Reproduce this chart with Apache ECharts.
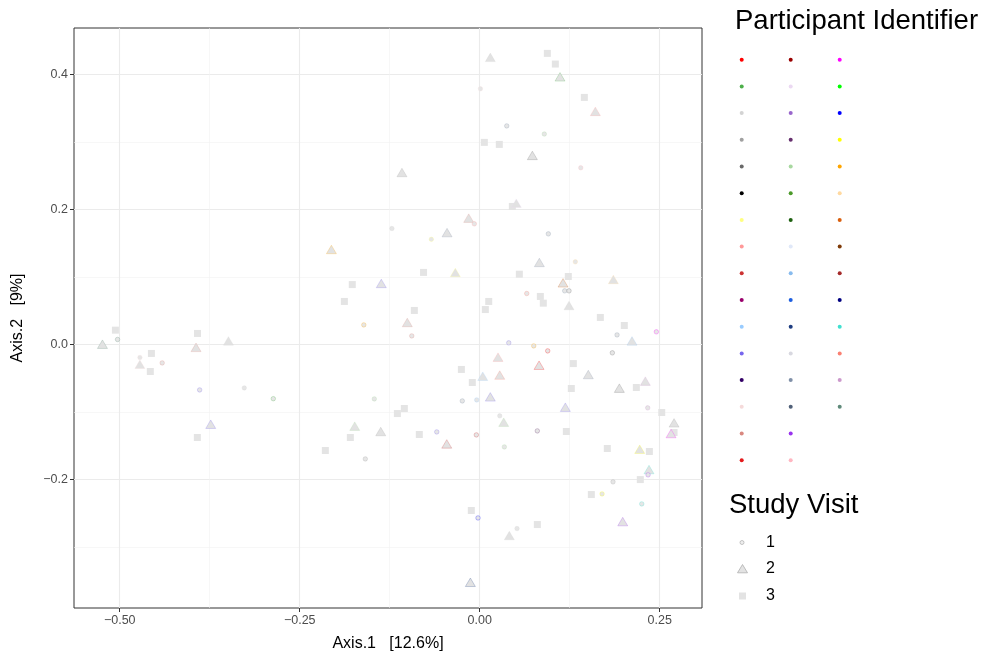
<!DOCTYPE html>
<html>
<head>
<meta charset="utf-8">
<script src="https://cdn.jsdelivr.net/npm/echarts@6/dist/echarts.min.js"></script>
<style>
  html, body { margin: 0; padding: 0; background: #ffffff; }
  #chart { width: 987px; height: 658px; }
</style>
</head>
<body>
<div id="chart"></div>
<script>
// Participant palette, column by column as listed in the key
const participantColors = [
  '#FF0000', '#4DAF4A', '#D3D3D3', '#A0A0A0', '#696969', '#000000', '#FFFF80', '#FF9999',
  '#CC3333', '#99006B', '#99CCFF', '#7766EE', '#330066', '#F5DADA', '#D98880', '#E41A1C',
  '#990000', '#EBD9F2', '#9966CC', '#66306E', '#A8D8A0', '#4C9A2A', '#1E6010', '#E0E8F8',
  '#88BBEE', '#1E5FE0', '#1E3D80', '#D8D8E0', '#8090A8', '#506078', '#9933EE', '#FFB6C1',
  '#FF00FF', '#00FF00', '#0000FF', '#FFFF00', '#FFA500', '#FFD9A0', '#D95F0E', '#7F3B08',
  '#A52A2A', '#000080', '#40E0D0', '#FA8072', '#CC99CC', '#5F8A7A'
];

// Study visit 1 (circles)
const visit1X = [0.001, -0.122, -0.0075, 0.0375, 0.0897, 0.1403, -0.503, -0.472, -0.441, -0.389,
  -0.327, -0.2867, -0.0672, -0.161, -0.0944, -0.0242, -0.0042, -0.1464, 0.0953, 0.1328,
  0.0653, 0.118, 0.124, 0.2453, 0.1907, 0.0403, 0.075, 0.0944, 0.1842, 0.2333,
  0.0278, 0.08, 0.0342, 0.2338, 0.1851, 0.1699, 0.225, 0.0518, -0.1589, -0.0597,
  -0.0047, -0.0024];
const visit1Y = [0.379, 0.172, 0.179, 0.324, 0.312, 0.262, 0.0077, -0.019, -0.027, -0.067,
  -0.064, -0.080, 0.156, 0.0293, 0.013, -0.0833, -0.0818, -0.0803, 0.1641, 0.1227,
  0.0758, 0.0797, 0.0797, 0.019, 0.0145, 0.0027, -0.0018, -0.0092, -0.0121, -0.0936,
  -0.1054, -0.1277, -0.1514, -0.1928, -0.2032, -0.221, -0.2358, -0.2723, -0.1692, -0.1292,
  -0.1336, -0.2566];
const visit1Participant = [13, 2, 7, 28, 20, 31, 45, 13, 14, 11,
  2, 1, 6, 36, 14, 28, 10, 20, 28, 37,
  43, 28, 4, 32, 28, 11, 36, 0, 4, 44,
  2, 19, 20, 30, 3, 35, 42, 2, 3, 11,
  8, 34];

// Study visit 2 (triangles)
const visit2X = [0.0147, -0.108, -0.0153, 0.1115, 0.1606, 0.0731, 0.0508, -0.524, -0.394, -0.349,
  -0.472, -0.0454, -0.206, -0.0339, -0.1367, -0.1006, 0.0042, 0.0147, 0.0828, 0.1157,
  0.1856, 0.124, 0.2115, 0.0254, 0.0824, 0.0278, 0.1508, 0.23, 0.1939, 0.1189,
  0.0333, 0.2699, 0.2657, 0.2222, 0.2351, 0.1986, 0.0411, -0.1736, -0.1375, -0.0458,
  -0.013, -0.3736];
const visit2Y = [0.4255, 0.255, 0.1874, 0.3967, 0.3455, 0.2803, 0.2096, 0.0007, -0.004, 0.0056,
  -0.029, 0.166, 0.141, 0.107, 0.0907, 0.0329, -0.0467, -0.0773, 0.1218, 0.0916,
  0.0966, 0.058, 0.0056, -0.0185, -0.0304, -0.045, -0.0442, -0.054, -0.0644, -0.0926,
  -0.1148, -0.1158, -0.1316, -0.1548, -0.1849, -0.262, -0.2827, -0.1207, -0.1286, -0.147,
  -0.3519, -0.1178];
const visit2Participant = [2, 3, 14, 1, 7, 4, 17, 45, 14, 2,
  13, 28, 36, 6, 11, 14, 10, 11, 28, 38,
  37, 2, 24, 7, 0, 43, 28, 44, 4, 11,
  20, 3, 32, 35, 42, 30, 2, 20, 3, 8,
  26, 11];

// Study visit 3 (squares)
const visit3X = [0.0064, 0.0939, 0.105, 0.1453, 0.0272, 0.0453, -0.506, -0.392, -0.456, -0.4575,
  -0.078, -0.177, -0.188, 0.0125, 0.0078, -0.0908, -0.0255, -0.0103, -0.1047, -0.1144,
  0.055, 0.123, 0.0842, 0.0883, 0.1675, 0.2008, 0.13, 0.2175, 0.1272, 0.2528,
  0.1203, 0.2699, 0.1772, 0.2356, 0.223, 0.155, 0.08, -0.1797, -0.2144, -0.0839,
  -0.0117, -0.3922];
const visit3Y = [0.2996, 0.4314, 0.4156, 0.3662, 0.2966, 0.2047, 0.0215, 0.0166, -0.013, -0.0397,
  0.107, 0.089, 0.064, 0.064, 0.052, 0.0507, -0.0367, -0.056, -0.0945, -0.102,
  0.1044, 0.101, 0.0714, 0.0615, 0.0403, 0.0284, -0.028, -0.0634, -0.0649, -0.1005,
  -0.1286, -0.1301, -0.1538, -0.1582, -0.1998, -0.222, -0.2664, -0.1375, -0.1567, -0.133,
  -0.2456, -0.1375];

// Axis ticks and labels
const xMajorTicks = [-0.5, -0.25, 0, 0.25];
const xMajorLabels = ['\u22120.50', '\u22120.25', '0.00', '0.25'];
const xMinorTicks = [-0.375, -0.125, 0.125];
const yMajorTicks = [-0.2, 0, 0.2, 0.4];
const yMajorLabels = ['\u22120.2', '0.0', '0.2', '0.4'];
const yMinorTicks = [-0.3, -0.1, 0.1, 0.3];
const visitNames = ['1', '2', '3'];

const X_MIN = -0.5635, X_MAX = 0.3087;
const Y_MIN = -0.390, Y_MAX = 0.469;

const FONT = '"Liberation Sans", Arial, Helvetica, sans-serif';

function withAlpha(hex, a) {
  const n = parseInt(hex.slice(1), 16);
  return 'rgba(' + ((n >> 16) & 255) + ',' + ((n >> 8) & 255) + ',' + (n & 255) + ',' + a + ')';
}

function labelFor(ticks, labels) {
  return function (v) {
    for (let i = 0; i < ticks.length; i++) {
      if (Math.abs(ticks[i] - v) < 1e-9) return labels[i];
    }
    return '';
  };
}

function coloredPoints(xs, ys, pids, alpha) {
  return xs.map(function (x, i) {
    return {
      value: [x, ys[i]],
      itemStyle: { borderColor: withAlpha(participantColors[pids[i]], alpha) }
    };
  });
}

const chart = echarts.init(document.getElementById('chart'), null, { renderer: 'canvas' });

// Key graphics: participant colour dots and study-visit shapes
const keyGraphics = [];
keyGraphics.push({
  type: 'text', x: 735, y: 21.7,
  style: { text: 'Participant Identifier', font: '27.5px ' + FONT, fill: '#000000', verticalAlign: 'middle' }
});
const keyColX = [741.7, 790.7, 839.7];
const keyRowsPerCol = 16;
participantColors.forEach(function (c, i) {
  const col = Math.floor(i / keyRowsPerCol);
  const row = i % keyRowsPerCol;
  keyGraphics.push({
    type: 'circle',
    shape: { cx: keyColX[col], cy: 59.7 + row * 26.7, r: 2 },
    style: { fill: c }
  });
});
keyGraphics.push({
  type: 'text', x: 729, y: 505.5,
  style: { text: 'Study Visit', font: '27.5px ' + FONT, fill: '#000000', verticalAlign: 'middle' }
});
const visitRowY = [542.5, 569, 596];
keyGraphics.push({
  type: 'circle', shape: { cx: 742, cy: visitRowY[0], r: 2 },
  style: { fill: '#eeeeee', stroke: '#b5b5b5', lineWidth: 0.8 }
});
keyGraphics.push({
  type: 'polygon', shape: { points: [[742.5, visitRowY[1] - 4.5], [747.5, visitRowY[1] + 3.8], [737.5, visitRowY[1] + 3.8]] },
  style: { fill: '#e3e3e3', stroke: '#b0b0b0', lineWidth: 0.8 }
});
keyGraphics.push({
  type: 'rect', shape: { x: 739, y: visitRowY[2] - 3.5, width: 7, height: 7 },
  style: { fill: '#e3e3e3' }
});
visitNames.forEach(function (name, i) {
  keyGraphics.push({
    type: 'text', x: 766, y: visitRowY[i],
    style: { text: name, font: '16px ' + FONT, fill: '#000000', verticalAlign: 'middle' }
  });
});

const tickLabelStyle = { color: '#4d4d4d', fontSize: 12.5, fontFamily: FONT };
const gridLine = { color: '#ebebeb', width: 1.1 };
const minorGridLine = { color: '#f1f1f1', width: 0.6 };

const option = {
  backgroundColor: '#ffffff',
  animation: false,
  grid: {
    left: 74, top: 28, width: 628, height: 580,
    show: true, borderColor: '#333333', borderWidth: 1, backgroundColor: 'transparent'
  },
  xAxis: [
    {
      type: 'value', min: X_MIN, max: X_MAX, position: 'bottom',
      axisLine: { show: false, onZero: false },
      axisTick: { show: true, customValues: xMajorTicks, length: 4, lineStyle: { color: '#333333', width: 1 } },
      axisLabel: { customValues: xMajorTicks, formatter: labelFor(xMajorTicks, xMajorLabels), margin: 6, ...tickLabelStyle },
      splitLine: { show: true, lineStyle: gridLine },
      name: 'Axis.1   [12.6%]', nameLocation: 'middle', nameGap: 28,
      nameTextStyle: { color: '#000000', fontSize: 16, fontFamily: FONT }
    },
    {
      type: 'value', min: X_MIN, max: X_MAX, position: 'bottom',
      axisLine: { show: false, onZero: false },
      axisTick: { show: false, customValues: xMinorTicks },
      axisLabel: { show: false, customValues: xMinorTicks },
      splitLine: { show: true, lineStyle: minorGridLine }
    }
  ],
  yAxis: [
    {
      type: 'value', min: Y_MIN, max: Y_MAX, position: 'left',
      axisLine: { show: false, onZero: false },
      axisTick: { show: true, customValues: yMajorTicks, length: 4, lineStyle: { color: '#333333', width: 1 } },
      axisLabel: { customValues: yMajorTicks, formatter: labelFor(yMajorTicks, yMajorLabels), margin: 6, ...tickLabelStyle },
      splitLine: { show: true, lineStyle: gridLine },
      name: 'Axis.2   [9%]', nameLocation: 'middle', nameGap: 48, nameRotate: 90,
      nameTextStyle: { color: '#000000', fontSize: 16, fontFamily: FONT }
    },
    {
      type: 'value', min: Y_MIN, max: Y_MAX, position: 'left',
      axisLine: { show: false, onZero: false },
      axisTick: { show: false, customValues: yMinorTicks },
      axisLabel: { show: false, customValues: yMinorTicks },
      splitLine: { show: true, lineStyle: minorGridLine }
    }
  ],
  series: [
    {
      name: visitNames[2], type: 'scatter', xAxisIndex: 0, yAxisIndex: 0,
      symbol: 'rect', symbolSize: 7,
      itemStyle: { color: '#e4e4e4', opacity: 1 },
      data: visit3X.map(function (x, i) { return [x, visit3Y[i]]; }),
      z: 3
    },
    {
      name: visitNames[1], type: 'scatter', xAxisIndex: 0, yAxisIndex: 0,
      symbol: 'triangle', symbolSize: [10, 8.5],
      itemStyle: { color: '#e2e2e2', borderWidth: 0.8, opacity: 1 },
      data: coloredPoints(visit2X, visit2Y, visit2Participant, 0.3),
      z: 4
    },
    {
      name: visitNames[0], type: 'scatter', xAxisIndex: 0, yAxisIndex: 0,
      symbol: 'circle', symbolSize: 4.5,
      itemStyle: { color: '#e6e6e6', borderWidth: 0.8, opacity: 1 },
      data: coloredPoints(visit1X, visit1Y, visit1Participant, 0.35),
      z: 5
    }
  ],
  graphic: keyGraphics
};

chart.setOption(option);
</script>
</body>
</html>
